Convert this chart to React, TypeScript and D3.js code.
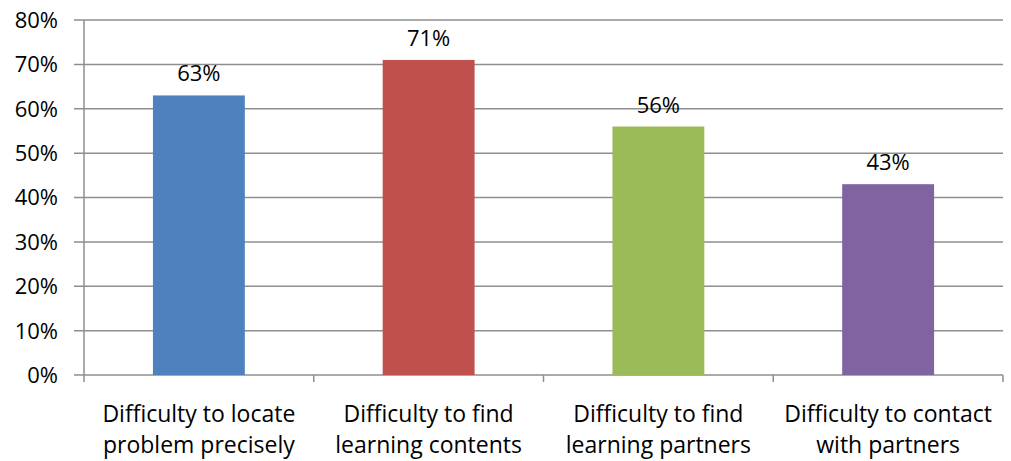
import React from "react";
import * as d3 from "d3";

const categories: string[][] = [
  ["Difficulty to locate", "problem precisely"],
  ["Difficulty to find", "learning contents"],
  ["Difficulty to find", "learning partners"],
  ["Difficulty to contact", "with partners"],
];
const values: number[] = [0.63, 0.71, 0.56, 0.43];
const colors: string[] = ["#4F81BD", "#C0504D", "#9BBB59", "#8064A2"];
const yTicks: number[] = [0, 0.1, 0.2, 0.3, 0.4, 0.5, 0.6, 0.7, 0.8];

const W = 1011;
const H = 461;
const margin = { left: 84, right: 8, top: 20, bottom: 86 };
const FONT = "'Open Sans', sans-serif";

export default function App() {
  const x = d3
    .scaleBand<number>()
    .domain(categories.map((_, i) => i))
    .range([margin.left, W - margin.right])
    .paddingInner(0.6)
    .paddingOuter(0.3);
  const xOuter = d3
    .scaleBand<number>()
    .domain(categories.map((_, i) => i))
    .range([margin.left, W - margin.right]);
  const y = d3.scaleLinear().domain([0, 0.8]).range([H - margin.bottom, margin.top]);
  const fmt = d3.format(".0%");
  const grid = "#8e8e8e";
  const y0 = y(0);

  const boundaries = d3.range(categories.length + 1).map((i) =>
    i < categories.length ? (xOuter(i) as number) : W - margin.right
  );

  return (
    <svg width={W} height={H} style={{ position: "absolute", left: 0, top: 0, background: "#fff" }}>
      {yTicks.map((t) => (
        <g key={t}>
          <line x1={margin.left - 10} x2={W - margin.right} y1={y(t)} y2={y(t)} stroke={grid} strokeWidth={1.5} />
          <text x={58} y={y(t)} dy="0.36em" textAnchor="end" fontFamily={FONT} fontSize={22} fill="#000">
            {fmt(t)}
          </text>
        </g>
      ))}
      <line x1={margin.left} x2={margin.left} y1={margin.top} y2={y0} stroke={grid} strokeWidth={1.5} />
      {boundaries.map((b, i) => (
        <line key={i} x1={b} x2={b} y1={y0} y2={y0 + 7} stroke={grid} strokeWidth={1.5} />
      ))}
      {values.map((v, i) => (
        <g key={i}>
          <rect x={x(i)} y={y(v)} width={x.bandwidth()} height={y0 - y(v)} fill={colors[i]} />
          <text
            x={(x(i) as number) + x.bandwidth() / 2}
            y={y(v) - 14}
            textAnchor="middle"
            fontFamily={FONT}
            fontSize={22}
            fill="#000"
          >
            {fmt(v)}
          </text>
        </g>
      ))}
      {categories.map((lines, i) => (
        <text
          key={i}
          x={(xOuter(i) as number) + xOuter.bandwidth() / 2}
          textAnchor="middle"
          fontFamily={FONT}
          fontSize={23}
          fill="#000"
        >
          {lines.map((l, j) => (
            <tspan key={j} x={(xOuter(i) as number) + xOuter.bandwidth() / 2} y={422 + j * 31}>
              {l}
            </tspan>
          ))}
        </text>
      ))}
    </svg>
  );
}
